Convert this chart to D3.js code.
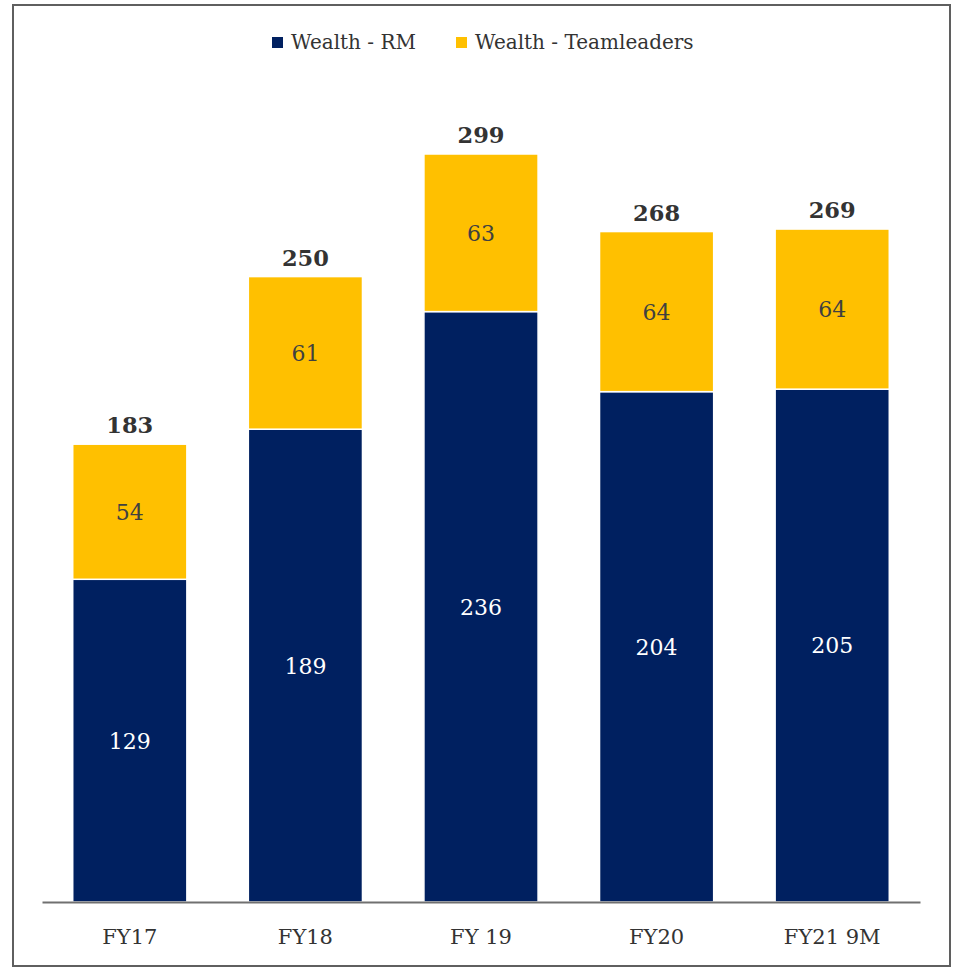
<!DOCTYPE html>
<html>
<head>
  <title>Wealth headcount</title>
<script src="https://d3js.org/d3.v7.min.js"></script>
<style>
  body { margin: 0; background: #fff; }
  text { font-family: "DejaVu Serif", serif; }
</style>
</head>
<body>
<svg width="965" height="969"></svg>
<script>

var categories = ["FY17", "FY18", "FY 19", "FY20", "FY21 9M"];
var rmValues = [129, 189, 236, 204, 205];
var teamleaderValues = [54, 61, 63, 64, 64];
var totals = [183, 250, 299, 268, 269];
var seriesNames = ["Wealth - RM", "Wealth - Teamleaders"];
var seriesColors = ["#002060", "#FFC000"];

var svg = d3.select("svg");

// outer frame
svg.append("rect")
    .attr("x", 13).attr("y", 5)
    .attr("width", 937).attr("height", 961)
    .attr("fill", "none")
    .attr("stroke", "#5f5f5f")
    .attr("stroke-width", 2);

var x = d3.scaleBand()
    .domain(categories)
    .range([42, 920])
    .paddingInner(0.35)
    .paddingOuter(0.175);

var y = d3.scaleLinear()
    .domain([0, 299])
    .range([902, 154]);

var rows = categories.map(function(c, i) {
  return {cat: c, rm: rmValues[i], tl: teamleaderValues[i], total: totals[i]};
});

var stack = d3.stack().keys(["rm", "tl"])(rows);

var layer = svg.selectAll(".layer")
  .data(stack)
  .enter().append("g")
    .attr("class", "layer")
    .attr("fill", function(d, i) { return seriesColors[i]; });

layer.selectAll("rect")
  .data(function(d) { return d; })
  .enter().append("rect")
    .attr("x", function(d) { return x(d.data.cat); })
    .attr("y", function(d) { return y(d[1]); })
    .attr("width", x.bandwidth())
    .attr("height", function(d) { return y(d[0]) - y(d[1]); })
    .attr("stroke", "#fff")
    .attr("stroke-width", 1.5);

// segment labels
layer.each(function(s, i) {
  d3.select(this).selectAll("text.seg")
    .data(s)
    .enter().append("text")
      .attr("class", "seg")
      .attr("x", function(d) { return x(d.data.cat) + x.bandwidth() / 2; })
      .attr("y", function(d) { return (y(d[0]) + y(d[1])) / 2; })
      .attr("dy", "0.36em")
      .attr("text-anchor", "middle")
      .attr("font-size", 22)
      .attr("fill", i === 0 ? "#ffffff" : "#404040")
      .text(function(d) { return d[1] - d[0]; });
});

// totals
svg.selectAll(".total")
  .data(rows)
  .enter().append("text")
    .attr("class", "total")
    .attr("x", function(d) { return x(d.cat) + x.bandwidth() / 2; })
    .attr("y", function(d) { return y(d.total) - 11; })
    .attr("text-anchor", "middle")
    .attr("font-size", 22.5)
    .attr("font-weight", "bold")
    .attr("fill", "#333333")
    .text(function(d) { return d.total; });

// x axis
var xAxis = svg.append("g")
    .attr("transform", "translate(0,902)")
    .call(d3.axisBottom(x).tickSize(0).tickPadding(27));
xAxis.select(".domain").attr("stroke", "#707070").attr("stroke-width", 2);
xAxis.selectAll("text")
    .attr("font-family", "DejaVu Serif, serif")
    .attr("font-size", 21)
    .attr("fill", "#333333");

// legend
var legend = svg.append("g").attr("transform", "translate(272,42)");
var legendX = [0, 184];
seriesNames.forEach(function(name, i) {
  var g = legend.append("g").attr("transform", "translate(" + legendX[i] + ",0)");
  g.append("rect")
      .attr("x", 0).attr("y", -5)
      .attr("width", 11).attr("height", 11)
      .attr("fill", seriesColors[i]);
  g.append("text")
      .attr("x", 19).attr("y", 0)
      .attr("dy", "0.36em")
      .attr("font-size", 20)
      .attr("fill", "#333333")
      .text(name);
});

</script>
</body>
</html>
